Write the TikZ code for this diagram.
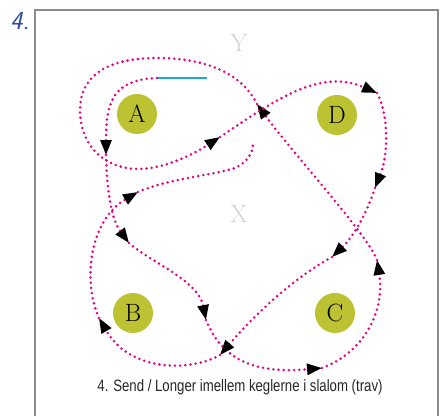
\documentclass[tikz,border=0pt]{standalone}
\usepackage{fontspec}
\usetikzlibrary{arrows.meta, positioning}
\newfontfamily\capfont{Liberation Sans}[FakeStretch=0.8]
\definecolor{trailpink}{HTML}{E6007E}
\definecolor{coneolive}{HTML}{BCC232}
\definecolor{startcyan}{HTML}{1FA8E0}
\definecolor{framegray}{HTML}{8C8C8C}
\definecolor{penblue}{HTML}{2E4A9E}

\begin{document}
\begin{tikzpicture}[x=1pt, y=-1pt,
    cone/.style={circle, fill=coneolive, minimum size=40pt, inner sep=0pt,
      font=\fontsize{25}{25}\selectfont},
    side/.style={text=black!18, font=\fontsize{25}{25}\selectfont},
    trail/.style={draw=trailpink, line width=2.8pt, line cap=round,
      dash pattern=on 0pt off 5.2pt},
    headed/.style={-{Triangle[length=15pt, width=11pt, black]}}]
        \useasboundingbox (0,0) rectangle (440,416);

        % Frame
        \draw[framegray, line width=2pt] (35,416) -- (35,10) -- (438,10) -- (438,416);
        \node[text=penblue, font=\sffamily\itshape\fontsize{26}{26}\selectfont] (num) at (20,21) {4.};

        % Side letters
        \node[side] (sideY) at (239,43) {Y};
        \node[side] (sideX) at (239,214) {X};

        % Cones
        \node[cone] (coneA) at (137,114) {A};
        \node[cone] (coneD) at (337,115) {D};
        \node[cone] (coneB) at (133,313) {B};
        \node[cone] (coneC) at (335,313) {C};

        % Start line
        \draw[startcyan, line width=2.2pt] (157,78) -- (207,78);

        % Route, one piece per arrow
        \draw[trail, headed] (157,78) .. controls (114,80) and (106,100) .. (106,155);
        \draw[trail, headed] (106,155) .. controls (107,195) and (112,220) .. (129,243);
        \draw[trail, headed] (129,243) .. controls (150,262) and (198,280) .. (206,320);
        \draw[trail, headed] (206,320) .. controls (222,360) and (255,374) .. (322,368);
        \draw[trail, headed] (322,368) .. controls (365,352) and (385,310) .. (377,260);
        \draw[trail, headed] (377,260) .. controls (368,235) and (290,150) .. (257,104);
        \draw[trail, headed] (257,104) .. controls (240,70) and (200,58) .. (157,58)
            .. controls (95,58) and (80,85) .. (80,110)
            .. controls (80,150) and (110,170) .. (140,169)
            .. controls (170,168) and (200,150) .. (220,137);
        \draw[trail, headed] (220,137) .. controls (275,100) and (320,68) .. (377,93);
        \draw[trail, headed] (377,93) .. controls (387,110) and (390,150) .. (375,188);
        \draw[trail, headed] (375,188) .. controls (368,210) and (355,235) .. (332,257);
        \draw[trail, headed] (332,257) .. controls (290,280) and (250,320) .. (220,355);
        \draw[trail, headed] (220,355) .. controls (190,372) and (130,372) .. (99,318);
        \draw[trail, headed] (99,318) .. controls (82,280) and (90,220) .. (138,192);
        \draw[trail] (138,192) .. controls (170,178) and (215,175) .. (235,168)
            .. controls (248,162) and (253,152) .. (253,144);

        % Caption
        \node[font=\capfont\fontsize{16.5}{16.5}\selectfont, text=black!85] (caption) at (240,387)
            {4. Send / Longer imellem keglerne i slalom (trav)};
    \end{tikzpicture}
\end{document}
